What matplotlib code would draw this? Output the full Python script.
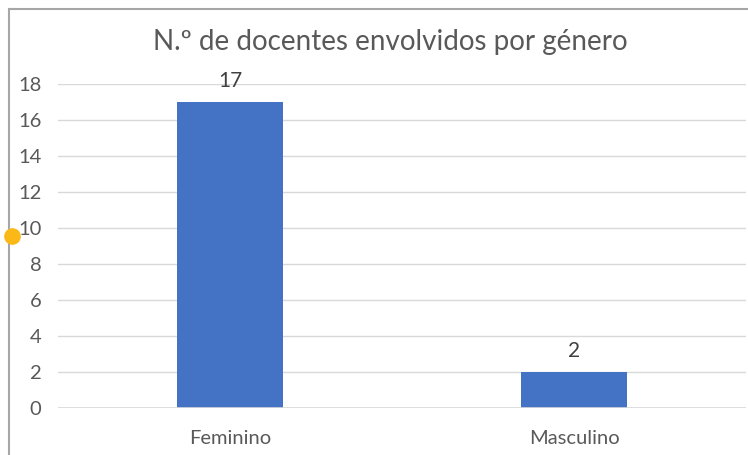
import matplotlib
matplotlib.use("Agg")
import matplotlib.pyplot as plt
from matplotlib.lines import Line2D

categories = ["Feminino", "Masculino"]
values = [17, 2]
yticks = [0, 2, 4, 6, 8, 10, 12, 14, 16, 18]
title = "N.º de docentes envolvidos por género"

plt.rcParams['font.family'] = ['Lato', 'DejaVu Sans']
txt = "#595959"

W, H = 748, 455
fig = plt.figure(figsize=(W / 100, H / 100), dpi=100)
ax = fig.add_axes([58 / W, 1 - 408 / H, 688 / W, 324 / H])

x = range(len(categories))
bars = ax.bar(x, values, width=0.31, color="#4472C4", zorder=3)
ax.set_xlim(-0.5, len(categories) - 0.5)
ax.set_ylim(0, 18)
ax.set_yticks(yticks)
ax.set_xticks(list(x))
ax.set_xticklabels(categories)
ax.grid(axis="y", color="#d9d9d9", linewidth=1, zorder=0)
ax.axhline(0, color="#d9d9d9", linewidth=1.2, zorder=4)
for s in ax.spines.values():
    s.set_visible(False)
ax.tick_params(axis="both", length=0, colors=txt, labelsize=14.5)
ax.tick_params(axis="y", pad=12)
ax.tick_params(axis="x", pad=16)
for lbl in ax.get_yticklabels() + ax.get_xticklabels():
    lbl.set_color(txt)

for b, v in zip(bars, values):
    ax.annotate(str(v), (b.get_x() + b.get_width() / 2, v), xytext=(0, 8),
                textcoords="offset points", ha="center", va="bottom",
                fontsize=15, color="#404040")

fig.text(0.522, 1 - 42 / H, title, ha="center", va="center", fontsize=20, color=txt)

# chart border (partial) and marker dot
fig.add_artist(Line2D([9 / W, 1], [1 - 9 / H, 1 - 9 / H], color="#a6a6a6", lw=1.5))
fig.add_artist(Line2D([9 / W, 9 / W], [0, 1 - 9 / H], color="#a6a6a6", lw=1.5))
fig.add_artist(Line2D([12 / W], [1 - 236 / H], marker="o", markersize=11,
                      markerfacecolor="#FBB917", markeredgecolor="#FBB917",
                      linestyle="none", zorder=10))

fig.savefig("out.png", dpi=100)
